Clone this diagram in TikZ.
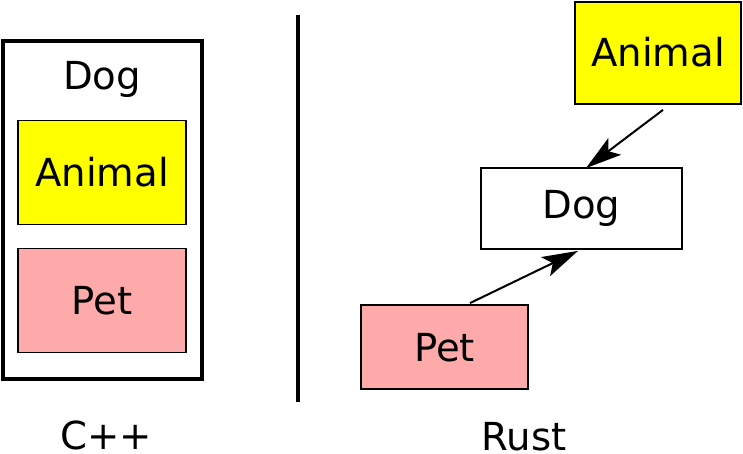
\documentclass[tikz,border=0pt]{standalone}
\usepackage{fontspec}
\setmainfont{DejaVu Sans}
\usetikzlibrary{arrows.meta}
\definecolor{petpink}{RGB}{255,170,170}
\definecolor{animalyellow}{RGB}{255,255,0}
\tikzset{
  fnt/.style={font=\fontsize{38.6}{40}\selectfont},
  lbl/.style={fnt, inner sep=0pt, text height=28pt, text depth=0pt},
  caption/.style={fnt, inner sep=0pt, anchor=base},
  box/.style={lbl, draw, line width=1.8pt, anchor=center},
  arr/.style={line width=2pt, -{Stealth[length=36pt,width=21pt,inset=8pt]}},
}
\begin{document}
\begin{tikzpicture}[x=1pt,y=-1pt]
\useasboundingbox (0,0) rectangle (743,454);
% C++ side
\node[draw, line width=4pt, minimum width=199pt, minimum height=338pt, inner sep=0pt] (outer) at (102.5,210) {};
\node[lbl] (dogL) at (102,76) {Dog};
\node[box, fill=animalyellow, minimum width=168pt, minimum height=104pt, line width=1.5pt] (animalL) at (102,172.5) {Animal};
\node[box, fill=petpink, minimum width=168pt, minimum height=104pt, line width=1.5pt] (petL) at (102,300.5) {Pet};
\node[caption] (cpp) at (106,449) {C++};
% separator
\coordinate (vt) at (298,15);
\coordinate (vb) at (298,402);
\draw[line width=4.5pt] (vt) -- (vb);
% Rust side
\node[box, fill=animalyellow, minimum width=166pt, minimum height=102pt] (animalR) at (658,53) {Animal};
\node[box, fill=white, minimum width=201pt, minimum height=81pt, text depth=8pt] (dogR) at (581.5,208.5) {Dog};
\node[box, fill=petpink, minimum width=167pt, minimum height=84pt] (petR) at (444.5,347) {Pet};
\node[caption] (rust) at (524,450) {Rust};
\draw[arr] ([shift={(5pt,-5pt)}]animalR.south) -- ([shift={(4.5pt,-1pt)}]dogR.north);
\draw[arr] ([shift={(25.5pt,1pt)}]petR.north) -- ([shift={(-3.5pt,-1pt)}]dogR.south);
\end{tikzpicture}
\end{document}
